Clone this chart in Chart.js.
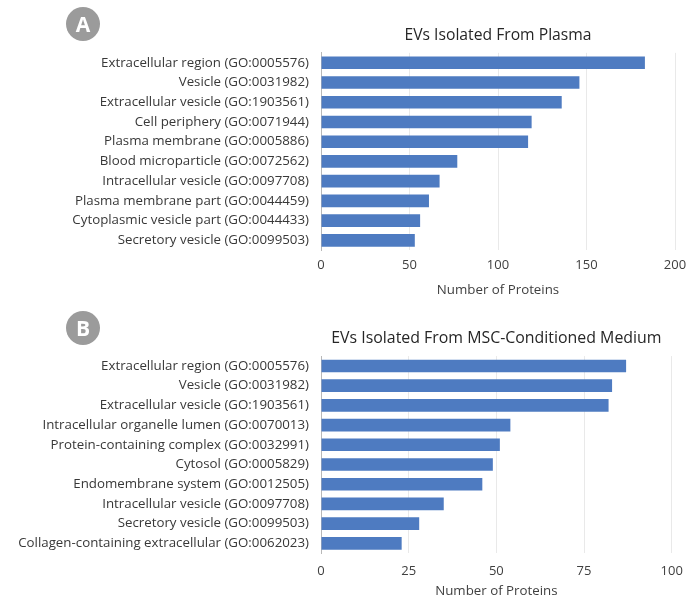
<!DOCTYPE html>
<html>
<head>
<meta charset="utf-8">
<script src="https://cdn.jsdelivr.net/npm/chart.js@4/dist/chart.umd.min.js"></script>
<style>
  body { margin: 0; background: #fff; }
  #wrap { position: relative; width: 699px; height: 601px; overflow: hidden; }
  canvas { position: absolute; left: 0; }
  #chartA { top: 0; }
  #chartB { top: 300px; }
  .badge {
    position: absolute; width: 34px; height: 34px; border-radius: 50%;
    background: #9b9b9b; color: #fff; font: bold 21px "Open Sans", sans-serif;
    line-height: 34px; text-align: center;
  }
</style>
</head>
<body>
<div id="wrap">
  <canvas id="chartA" width="699" height="300"></canvas>
  <canvas id="chartB" width="699" height="301"></canvas>
  <div class="badge" style="left:66px; top:7px;">A</div>
  <div class="badge" style="left:66px; top:311px;">B</div>
</div>
<script>
// Panel A: EVs isolated from plasma
const plasmaTerms = [
  'Extracellular region (GO:0005576)',
  'Vesicle (GO:0031982)',
  'Extracellular vesicle (GO:1903561)',
  'Cell periphery (GO:0071944)',
  'Plasma membrane (GO:0005886)',
  'Blood microparticle (GO:0072562)',
  'Intracellular vesicle (GO:0097708)',
  'Plasma membrane part (GO:0044459)',
  'Cytoplasmic vesicle part (GO:0044433)',
  'Secretory vesicle (GO:0099503)'
];
const plasmaCounts = [183, 146, 136, 119, 117, 77, 67, 61, 56, 53];
const plasmaTicks = [0, 50, 100, 150, 200];

// Panel B: EVs isolated from MSC-conditioned medium
const mscTerms = [
  'Extracellular region (GO:0005576)',
  'Vesicle (GO:0031982)',
  'Extracellular vesicle (GO:1903561)',
  'Intracellular organelle lumen (GO:0070013)',
  'Protein-containing complex (GO:0032991)',
  'Cytosol (GO:0005829)',
  'Endomembrane system (GO:0012505)',
  'Intracellular vesicle (GO:0097708)',
  'Secretory vesicle (GO:0099503)',
  'Collagen-containing extracellular (GO:0062023)'
];
const mscCounts = [87, 83, 82, 54, 51, 49, 46, 35, 28, 23];
const mscTicks = [0, 25, 50, 75, 100];

const FONT = '"Open Sans", sans-serif';
const BAR = '#4e7bc1';

function makeChart(id, title, labels, values, ticks, lay) {
  const maxV = ticks[ticks.length - 1];
  return new Chart(document.getElementById(id), {
    type: 'bar',
    data: {
      labels: labels,
      datasets: [{
        data: values,
        backgroundColor: BAR,
        borderWidth: 0,
        barPercentage: 0.64,
        categoryPercentage: 1
      }]
    },
    options: {
      indexAxis: 'y',
      responsive: false,
      animation: false,
      layout: { padding: { left: 0, right: lay.right, top: 0, bottom: 0 } },
      plugins: {
        legend: { display: false },
        tooltip: { enabled: false },
        title: {
          display: true,
          text: title,
          fullSize: false,
          color: '#262626',
          font: { family: FONT, size: lay.titleSize, weight: 'normal' },
          padding: { top: lay.titleTop, bottom: lay.titleBottom }
        }
      },
      scales: {
        x: {
          min: 0,
          max: maxV,
          afterBuildTicks: (scale) => { scale.ticks = ticks.map(v => ({ value: v })); },
          afterFit: (scale) => { scale.height = lay.xHeight; },
          grid: { color: '#e9e9e9', drawTicks: false },
          border: { display: false },
          ticks: { color: '#404040', padding: lay.tickPad, font: { family: FONT, size: 13 } },
          title: {
            display: true,
            text: 'Number of Proteins',
            color: '#404040',
            font: { family: FONT, size: 13.3 },
            padding: { top: 0, bottom: lay.axisTitleBottom }
          }
        },
        y: {
          afterFit: (scale) => { scale.width = lay.left; },
          grid: { display: false, drawTicks: false },
          border: { display: true, color: '#b8b8b8', width: 1 },
          ticks: { color: '#383838', padding: 12, font: { family: FONT, size: 13.3 } }
        }
      }
    }
  });
}

makeChart('chartA', 'EVs Isolated From Plasma', plasmaTerms, plasmaCounts, plasmaTicks,
  { left: 321, right: 24, titleSize: 15.7, titleTop: 26, titleBottom: 8,
    xHeight: 49.7, tickPad: 7, axisTitleBottom: 1.5 });
makeChart('chartB', 'EVs Isolated From MSC-Conditioned Medium', mscTerms, mscCounts, mscTicks,
  { left: 321, right: 27.3, titleSize: 15.9, titleTop: 29, titleBottom: 8,
    xHeight: 47.8, tickPad: 10, axisTitleBottom: 1.5 });
</script>
</body>
</html>
